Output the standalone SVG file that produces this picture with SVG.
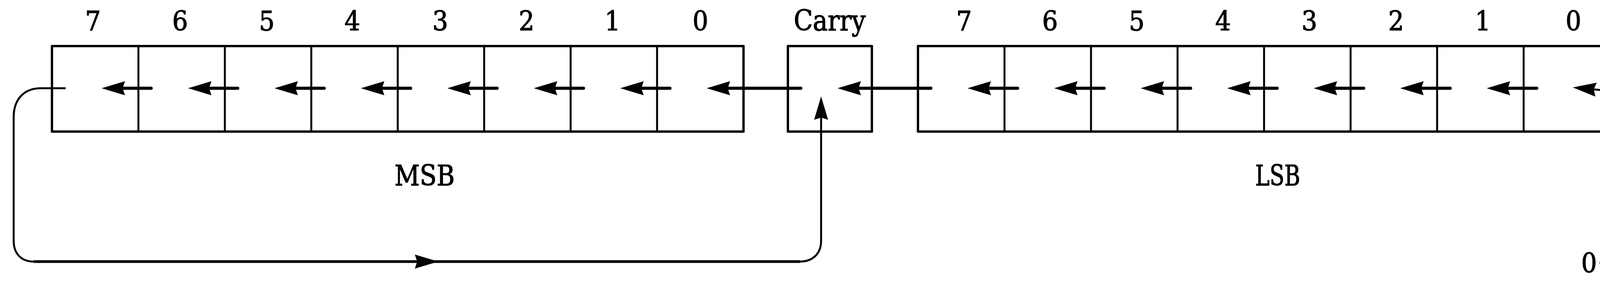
<svg xmlns="http://www.w3.org/2000/svg" width="4275" height="730" viewBox="0 0 4275 730">
<style>
.box{fill:none;stroke:#000;stroke-width:6;stroke-linejoin:round}
.div{stroke:#000;stroke-width:5}
.sh{stroke:#000;stroke-width:8;stroke-linecap:round;fill:none;marker-end:url(#ah)}
.loop{fill:none;stroke:#000;stroke-width:5;stroke-linejoin:round}
.lbl{font-family:"DejaVu Serif Condensed","DejaVu Serif","Liberation Serif",serif;font-size:70px;fill:#000;stroke:#000;stroke-width:1.5;text-anchor:middle}
.big{font-family:"DejaVu Serif Condensed","DejaVu Serif","Liberation Serif",serif;font-size:72px;fill:#000;stroke:#000;stroke-width:1.5;text-anchor:middle}
</style>
<defs>
<marker id="ah" markerUnits="userSpaceOnUse" viewBox="-2 -20 64 40" markerWidth="64" markerHeight="40" refX="6" refY="0" orient="auto">
<path d="M60,0 L0,-18 L6,0 L0,18 Z" fill="#000"/>
</marker>
</defs>
<rect width="4275" height="730" fill="#fff"/>
<g id="msb">
<rect class="box" x="133" y="118" width="1770.4" height="219"/>
<line class="div" x1="354.3" y1="118" x2="354.3" y2="337"/>
<line class="div" x1="575.6" y1="118" x2="575.6" y2="337"/>
<line class="div" x1="796.9" y1="118" x2="796.9" y2="337"/>
<line class="div" x1="1018.2" y1="118" x2="1018.2" y2="337"/>
<line class="div" x1="1239.5" y1="118" x2="1239.5" y2="337"/>
<line class="div" x1="1460.8" y1="118" x2="1460.8" y2="337"/>
<line class="div" x1="1682.1" y1="118" x2="1682.1" y2="337"/>
<text class="lbl" x="238" y="78">7</text>
<text class="lbl" x="461" y="78">6</text>
<text class="lbl" x="683" y="78">5</text>
<text class="lbl" x="902" y="78">4</text>
<text class="lbl" x="1127" y="78">3</text>
<text class="lbl" x="1348" y="78">2</text>
<text class="lbl" x="1568" y="78">1</text>
<text class="lbl" x="1793" y="78">0</text>
<text class="big" x="1087" y="475" textLength="154" lengthAdjust="spacingAndGlyphs">MSB</text>
</g>
<g id="carry">
<rect class="box" x="2017" y="118" width="215" height="219"/>
<text class="big" x="2124" y="78" textLength="184" lengthAdjust="spacingAndGlyphs">Carry</text>
</g>
<g id="lsb">
<rect class="box" x="2350" y="118" width="1772" height="219"/>
<line class="div" x1="2571.5" y1="118" x2="2571.5" y2="337"/>
<line class="div" x1="2793" y1="118" x2="2793" y2="337"/>
<line class="div" x1="3014.5" y1="118" x2="3014.5" y2="337"/>
<line class="div" x1="3236" y1="118" x2="3236" y2="337"/>
<line class="div" x1="3457.5" y1="118" x2="3457.5" y2="337"/>
<line class="div" x1="3679" y1="118" x2="3679" y2="337"/>
<line class="div" x1="3900.5" y1="118" x2="3900.5" y2="337"/>
<text class="lbl" x="2468" y="78">7</text>
<text class="lbl" x="2688" y="78">6</text>
<text class="lbl" x="2910" y="78">5</text>
<text class="lbl" x="3131" y="78">4</text>
<text class="lbl" x="3352" y="78">3</text>
<text class="lbl" x="3574" y="78">2</text>
<text class="lbl" x="3796" y="78">1</text>
<text class="lbl" x="4028" y="78">0</text>
<text class="big" x="3271" y="475" textLength="115" lengthAdjust="spacingAndGlyphs">LSB</text>
</g>
<g id="zero-in">
<text class="lbl" x="4068" y="698">0</text>
</g>
<g id="connectors">
<line class="sh" x1="387" y1="226" x2="314" y2="226"/>
<line class="sh" x1="608.6" y1="226" x2="535.3" y2="226"/>
<line class="sh" x1="829.9" y1="226" x2="756.6" y2="226"/>
<line class="sh" x1="1051.2" y1="226" x2="977.9" y2="226"/>
<line class="sh" x1="1272.5" y1="226" x2="1199.2" y2="226"/>
<line class="sh" x1="1493.8" y1="226" x2="1420.5" y2="226"/>
<line class="sh" x1="1715.1" y1="226" x2="1641.8" y2="226"/>
<line class="sh" x1="2050" y1="226" x2="1863" y2="226"/>
<line class="sh" x1="2383" y1="226" x2="2198" y2="226"/>
<line class="sh" x1="2605" y1="226" x2="2531" y2="226"/>
<line class="sh" x1="2826.5" y1="226" x2="2752.5" y2="226"/>
<line class="sh" x1="3048" y1="226" x2="2974" y2="226"/>
<line class="sh" x1="3269.5" y1="226" x2="3195.5" y2="226"/>
<line class="sh" x1="3491" y1="226" x2="3417" y2="226"/>
<line class="sh" x1="3712.5" y1="226" x2="3638.5" y2="226"/>
<line class="sh" x1="3934" y1="226" x2="3860" y2="226"/>
<path class="loop" d="M168,226 L105,226 C58,226 35,258 35,300 L35,617 C35,650 55,670 86,670 L2048,670 C2080,670 2102,650 2102,617 L2102,301" marker-end="url(#ah)"/>
<line x1="86" y1="670" x2="2048" y2="670" stroke="#000" stroke-width="7"/>
<path d="M1122,670 L1062,652 L1068,670 L1062,688 Z" fill="#000"/>
<path class="loop" stroke-width="4" d="M4095,673 L4165,673 C4205,673 4229,655 4229,619 L4229,303 C4229,265 4205,233 4159,233 L4123,233 L4080,229" marker-end="url(#ah)"/>
</g>
</svg>
